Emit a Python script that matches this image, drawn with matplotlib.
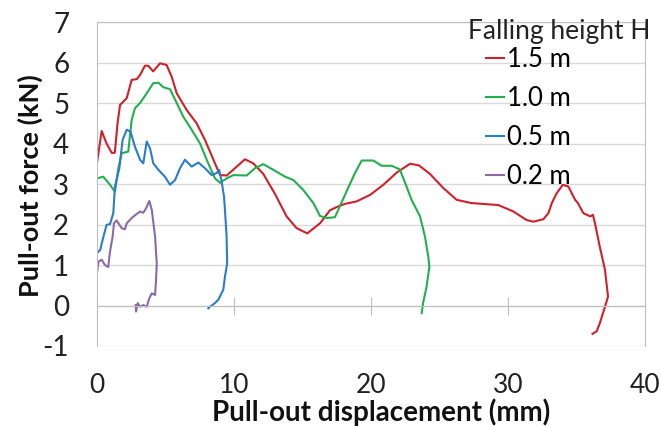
import matplotlib
matplotlib.use("Agg")
import matplotlib.pyplot as plt

# -----------------------------
# DATA
# -----------------------------
x_15 = [0, 0.34, 0.7, 1.07, 1.3, 1.5, 1.68, 2.17, 2.53, 2.9, 3.14, 3.5, 3.74, 4.1, 4.6,
        5.08, 5.45, 5.82, 6.54, 7.27, 7.88, 8.61, 8.98, 9.47, 10.07, 10.8, 11.4, 12.14,
        13.0, 13.84, 14.57, 15.35, 16.28, 17.0, 17.49, 18.1, 18.95, 19.93, 20.9, 21.87,
        22.85, 23.5, 24.3, 25.28, 26.25, 27.3, 29.3, 30.4, 31.36, 31.85, 32.58, 32.95,
        33.2, 33.55, 34.0, 34.4, 34.9, 35.1, 35.5, 36.0, 36.2, 36.35, 36.7, 37.08, 37.3,
        37.08, 36.7, 36.47, 36.17]
y_15 = [3.52, 4.31, 4.0, 3.77, 3.77, 4.5, 4.95, 5.12, 5.57, 5.59, 5.69, 5.92, 5.92, 5.78, 5.98,
        5.94, 5.65, 5.24, 4.83, 4.5, 4.09, 3.51, 3.22, 3.21, 3.39, 3.61, 3.51, 3.25,
        2.75, 2.2, 1.91, 1.78, 2.03, 2.35, 2.43, 2.51, 2.57, 2.73, 2.98, 3.28,
        3.5, 3.46, 3.25, 2.9, 2.61, 2.53, 2.48, 2.32, 2.11, 2.07, 2.13, 2.28,
        2.53, 2.77, 2.98, 2.94, 2.61, 2.53, 2.28, 2.2, 2.24, 2.03, 1.45, 0.88, 0.22,
        -0.03, -0.44, -0.64, -0.7]

x_10 = [0, 0.46, 0.95, 1.31, 1.56, 1.8, 2.28, 2.53, 2.77, 3.14, 3.63, 4.11, 4.48, 4.84, 5.33,
        5.82, 6.3, 6.91, 7.52, 8.12, 8.61, 8.98, 9.47, 9.95, 10.93, 11.53, 12.14, 12.87,
        13.73, 14.33, 15.06, 15.79, 16.28, 16.77, 17.37, 18.1, 18.83, 19.32, 20.17, 20.78,
        21.51, 22.1, 22.5, 22.96, 23.58, 23.94, 24.18, 24.26, 24.06, 23.8, 23.7]
y_10 = [3.14, 3.18, 2.98, 2.81, 3.39, 3.76, 3.8, 4.58, 4.87, 5.0, 5.24, 5.49, 5.5, 5.39, 5.34,
        5.0, 4.66, 4.34, 4.0, 3.51, 3.14, 3.03, 3.14, 3.22, 3.21, 3.39, 3.49, 3.35,
        3.18, 3.1, 2.85, 2.53, 2.21, 2.16, 2.18, 2.73, 3.27, 3.58, 3.58, 3.45,
        3.45, 3.36, 3.02, 2.61, 2.2, 1.7, 1.21, 0.96, 0.47, 0.06, -0.19]

x_05 = [0, 0.23, 0.47, 0.7, 0.95, 1.19, 1.31, 1.63, 1.87, 2.17, 2.45, 2.77, 3.14, 3.38, 3.63,
        3.87, 4.11, 4.48, 4.96, 5.33, 5.7, 6.06, 6.42, 6.91, 7.4, 7.88, 8.37, 8.73, 8.92,
        9.1, 9.27, 9.34, 9.46, 9.5, 9.34, 9.22, 8.85, 8.61, 8.25, 8.12]
y_05 = [1.29, 1.37, 1.7, 1.99, 2.01, 2.28, 2.94, 3.39, 4.09, 4.34, 4.29, 3.92, 3.6, 3.51, 4.05,
        3.88, 3.51, 3.35, 3.18, 2.98, 3.1, 3.39, 3.6, 3.43, 3.53, 3.39, 3.22, 3.27, 3.35,
        3.06, 2.69, 2.36, 1.7, 1.04, 0.71, 0.39, 0.14, 0.06, -0.03, -0.07]

x_02 = [0, 0.1, 0.34, 0.58, 0.82, 0.95, 1.14, 1.24, 1.43, 1.8, 2.04, 2.17, 2.53, 2.9, 3.14,
        3.38, 3.58, 3.82, 4.0, 4.24, 4.36, 4.31, 4.24, 4.0, 3.82, 3.63, 3.38, 3.14, 2.97,
        2.85, 2.82]
y_02 = [0.8, 1.08, 1.13, 1.0, 0.95, 1.33, 1.7, 2.03, 2.1, 1.91, 1.88, 2.03, 2.16, 2.26, 2.32,
        2.29, 2.4, 2.58, 2.36, 1.7, 1.04, 0.63, 0.26, 0.3, 0.18, -0.03, 0.01, -0.03, 0.06,
        -0.15, 0.01]

labels = ["1.5 m", "1.0 m", "0.5 m", "0.2 m"]
colors = ["#d0202a", "#22b04e", "#2a7ccc", "#8a6aa8"]

x_ticks = [0, 10, 20, 30, 40]
y_ticks = [-1, 0, 1, 2, 3, 4, 5, 6, 7]

# -----------------------------
# FIGURE
# -----------------------------
plt.rcParams["font.family"] = ["Lato", "DejaVu Sans"]
plt.rcParams["axes.unicode_minus"] = False

fig = plt.figure(figsize=(6.61, 4.26), dpi=100)
ax = fig.add_axes([97 / 661, 80 / 426, 548 / 661, 324 / 426])

series = [(x_15, y_15), (x_10, y_10), (x_05, y_05), (x_02, y_02)]
for (xs, ys), lab, col in zip(series, labels, colors):
    ax.plot(xs, ys, color=col, lw=1.5, label=lab)

ax.set_xlim(0, 40)
ax.set_ylim(-1, 7)
ax.set_xticks(x_ticks)
ax.set_yticks(y_ticks)
ax.yaxis.grid(True, color="#d9d9d9", lw=1)
ax.set_axisbelow(True)

grey = "#bfbfbf"
for side in ["left", "right", "top"]:
    ax.spines[side].set_color(grey)
# x axis crosses at y = 0, labels sit low (Excel style)
ax.spines["bottom"].set_position(("data", 0))
ax.spines["bottom"].set_color(grey)
ax.tick_params(axis="x", direction="inout", length=13, color=grey, pad=42,
               labelsize=19, labelcolor="#222222")
ax.tick_params(axis="y", length=0, pad=20, labelsize=20, labelcolor="#222222")

fig.text(30 / 661, 1 - 186 / 426, "Pull-out force (kN)", rotation=90,
         ha="center", va="center", fontsize=19.5, fontweight="bold", color="#111111")
fig.text(381 / 661, 1 - 412 / 426, "Pull-out displacement (mm)",
         ha="center", va="center", fontsize=20, fontweight="bold", color="#111111")

fig.text(468 / 661, 1 - 31 / 426, "Falling height H", ha="left", va="center",
         fontsize=19, color="#222222")
ax.legend(loc="upper left", bbox_to_anchor=(486 / 661, 1 - 47 / 426),
          bbox_transform=fig.transFigure, frameon=False, fontsize=18.5,
          handlelength=0.7, handletextpad=0.1, labelspacing=0.54,
          borderpad=0, borderaxespad=0)

fig.savefig("out.png", dpi=100)
